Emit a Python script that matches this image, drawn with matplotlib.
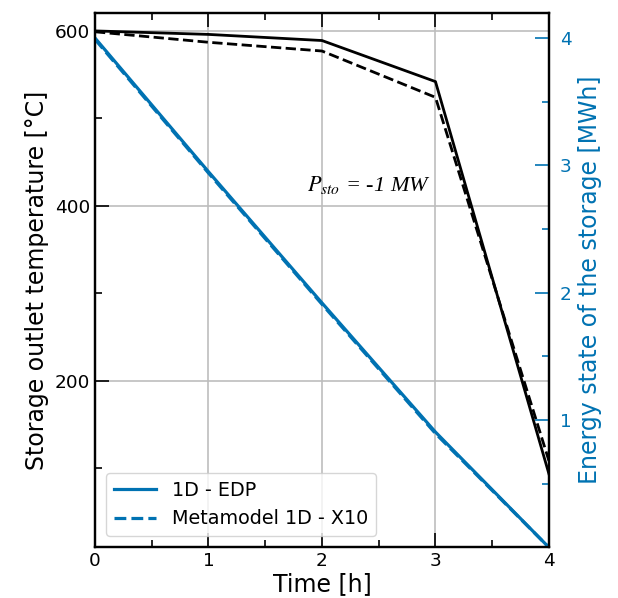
import numpy as np
import matplotlib
matplotlib.use("Agg")
import matplotlib.pyplot as plt
from matplotlib.ticker import MultipleLocator, FixedLocator

# data
time_h = [0, 1, 2, 3, 4]
temp_edp = [600, 596, 589, 542, 93]
temp_meta = [599, 587, 577, 524, 108]
energy_edp = [4.0, 2.95, 1.92, 0.906, 0.0]
energy_meta = [3.99, 2.94, 1.91, 0.895, 0.0]
energy_ticks = [1, 2, 3, 4]

blue = "#0072b2"
plt.rcParams["mathtext.fontset"] = "stix"

fig = plt.figure(figsize=(6.18, 5.98), dpi=100)
ax = fig.add_axes([0.1537, 0.0845, 0.7346, 0.8945])
ax2 = ax.twinx()

ax.plot(time_h, temp_edp, color="black", lw=2, ls="-")
ax.plot(time_h, temp_meta, color="black", lw=2, ls="--")
ax2.plot(time_h, energy_edp, color=blue, lw=2.3, ls="-", label="1D - EDP")
ax2.plot(time_h, energy_meta, color=blue, lw=2.3, ls="--", label="Metamodel 1D - X10")

ax.set_xlim(0, 4)
ax.set_ylim(9, 621)
ax2.set_ylim(0, 4.2)

ax.xaxis.set_major_locator(MultipleLocator(1))
ax.xaxis.set_minor_locator(MultipleLocator(0.5))
ax.yaxis.set_major_locator(MultipleLocator(200))
ax.yaxis.set_minor_locator(MultipleLocator(100))
ax2.yaxis.set_major_locator(FixedLocator(energy_ticks))
ax2.yaxis.set_minor_locator(MultipleLocator(0.5))

ax.grid(True, which="major", color="#bdbdbd", lw=1.2)
ax.set_axisbelow(True)

ax.tick_params(which="both", direction="in", top=True, right=False, labelsize=13.3, width=1.2)
ax.tick_params(which="major", length=10)
ax.tick_params(which="minor", length=5)
ax2.tick_params(which="both", direction="in", colors=blue, labelsize=13.3, width=1.2, pad=8)
ax2.tick_params(which="major", length=10)
ax2.tick_params(which="minor", length=5)

for a in (ax, ax2):
    for s in a.spines.values():
        s.set_linewidth(1.6)

ax.set_xlabel("Time [h]", fontsize=17, labelpad=1)
ax.set_ylabel("Storage outlet temperature [°C]", fontsize=17)
ax2.set_ylabel("Energy state of the storage [MWh]", fontsize=17, color=blue)

ax.text(1.87, 424, r"$P_{sto}$ = -1 MW", fontsize=16, family="Liberation Serif",
        style="italic", va="center", ha="left")

ax2.legend(loc="lower left", fontsize=13.8, frameon=True, borderaxespad=0.6,
           handlelength=2.2)

fig.savefig("out.png", dpi=100)
